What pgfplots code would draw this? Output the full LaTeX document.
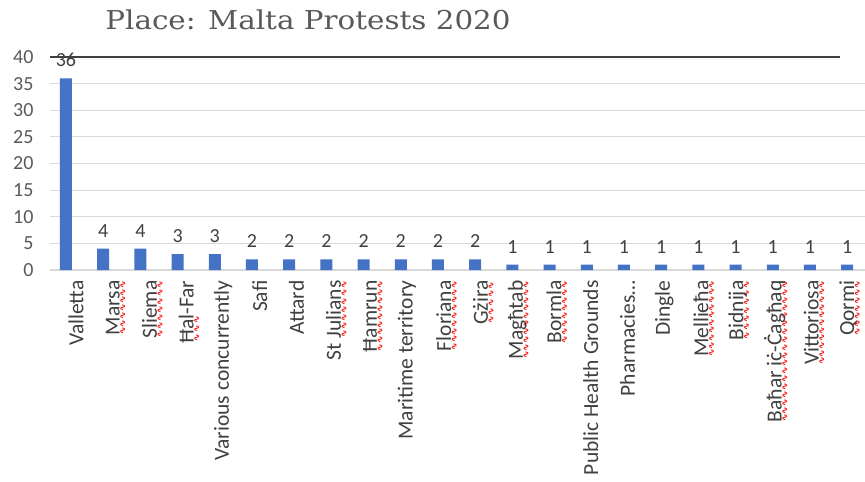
\documentclass[border=0pt]{standalone}
\usepackage{pgfplots}
\pgfplotsset{compat=1.18}
\usepackage{fontspec}
\setmainfont{Carlito}
\newfontfamily\titlefont{DejaVu Serif}
\newfontfamily\wavefont{DejaVu Sans}
\newsavebox\sqbox
\newcommand\sq[1]{\sbox\sqbox{#1}\leavevmode\rlap{\raisebox{-6pt}[0pt][0pt]{\color{red}\wavefont\bfseries\fontsize{9}{9}\selectfont\hbox to \wd\sqbox{\xleaders\hbox{∿}\hfil}}}\usebox\sqbox}
\definecolor{barblue}{HTML}{4472C4}
\definecolor{txt}{HTML}{404040}
\definecolor{tickc}{HTML}{595959}
\definecolor{gridc}{HTML}{D9D9D9}
\begin{document}
\begin{tikzpicture}
\useasboundingbox (0,0) rectangle (865pt,482pt);
\node[anchor=base, text=tickc, font=\titlefont\fontsize{26}{30}\selectfont, inner sep=0pt] at (308pt,452pt) {\scalebox{1.13}[1]{Place: Malta Protests 2020}};
\begin{axis}[
  /pgf/number format/assume math mode=true,
  at={(50pt,212pt)}, anchor=south west,
  scale only axis, width=815pt, height=213pt,
  ybar, bar width=12pt,
  xmin=-0.43, xmax=21.48, ymin=0, ymax=40,
  clip=false,
  axis line style={draw=none},
  major tick length=0pt,
  ytick={0,5,...,35},
  extra y ticks={40},
  extra y tick style={grid=none},
  ymajorgrids,
  grid style={gridc, line width=1.2pt},
  yticklabel style={font=\fontsize{20}{22}\selectfont, text=tickc, xshift=-13pt},
  xtick={0.269,1.257,2.246,3.234,4.223,5.211,6.199,7.188,8.176,9.165,10.153,11.141,12.130,13.118,14.107,15.095,16.083,17.072,18.060,19.049,20.037,21.025},
  xticklabels={Valletta, \sq{Marsa}, \sq{Sliema}, {\sq{Ħal}-Far}, Various concurrently, Safi, Attard, {St \sq{Julians}}, \sq{Ħamrun}, Maritime territory, \sq{Floriana}, \sq{Gżira}, \sq{Magħtab}, \sq{Bormla}, Public Health Grounds, Pharmacies…, Dingle, \sq{Mellieħa}, \sq{Bidnija}, \sq{Baħar iċ-Ċagħaq}, \sq{Vittoriosa}, \sq{Qormi}},
  xticklabel style={rotate=90, anchor=east, font=\fontsize{21.5}{24}\selectfont, text=txt},
  xticklabel shift=7pt,
  nodes near coords,
  every node near coord/.append style={font=\fontsize{20}{22}\selectfont, text=txt, yshift=8pt},
]
\addplot[fill=barblue, draw=none] coordinates {
(0,36) (1,4) (2,4) (3,3) (4,3) (5,2) (6,2) (7,2) (8,2) (9,2) (10,2) (11,2)
(12,1) (13,1) (14,1) (15,1) (16,1) (17,1) (18,1) (19,1) (20,1) (21,1)};
\draw[black!75, line width=1.3pt] (axis cs:-0.43,40) -- (axis cs:20.8,40);
\end{axis}
\end{tikzpicture}
\end{document}
